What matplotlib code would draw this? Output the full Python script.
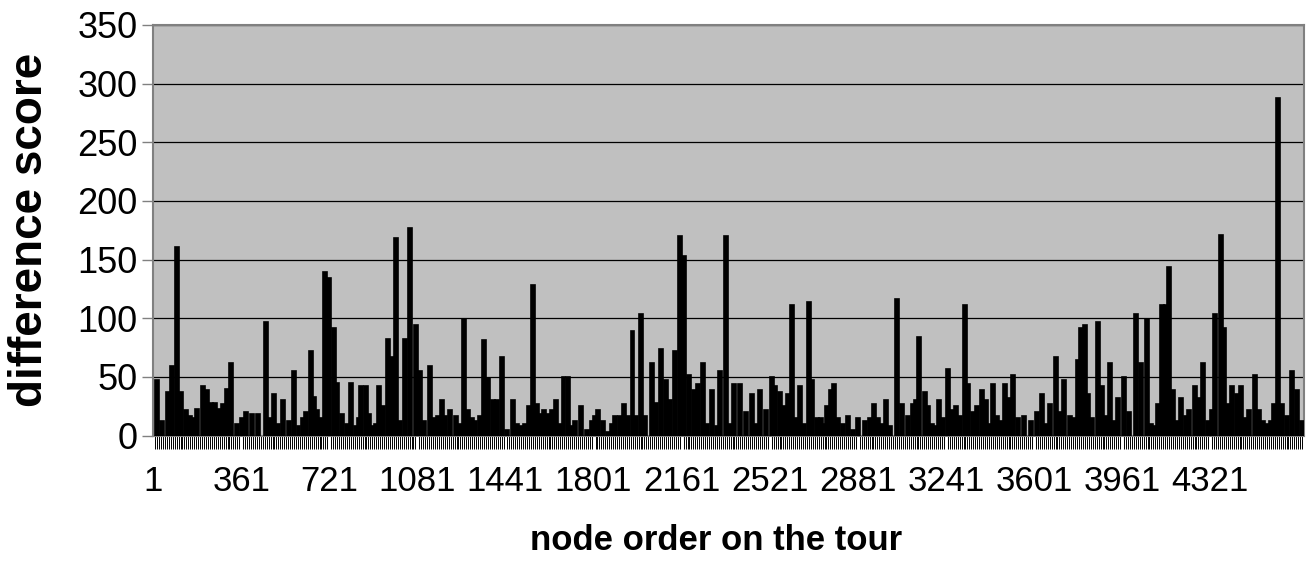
import matplotlib
matplotlib.use("Agg")
import matplotlib.pyplot as plt
import numpy as np

# ---- data ----
tour_length = 4704
tick_label_nodes = [1, 361, 721, 1081, 1441, 1801, 2161, 2521, 2881, 3241, 3601, 3961, 4321]
y_ticks = [0, 50, 100, 150, 200, 250, 300, 350]

node_order = [
    18, 37, 63, 78, 100, 115, 136, 152, 163, 182, 206, 221, 237, 254, 272, 286, 304, 320, 343, 364,
    381, 405, 431, 462, 479, 495, 513, 531, 558, 577, 595, 615, 625, 647, 659, 672, 688, 705, 719, 741,
    754, 774, 793, 809, 830, 843, 852, 870, 885, 897, 912, 925, 940, 960, 979, 994, 1011, 1031, 1052, 1076,
    1092, 1109, 1133, 1149, 1165, 1181, 1194, 1215, 1238, 1256, 1273, 1289, 1304, 1317, 1337, 1355, 1371, 1389, 1408, 1426,
    1447, 1471, 1488, 1505, 1521, 1539, 1553, 1569,
    1583, 1599, 1616, 1631, 1647, 1664, 1678, 1696, 1712, 1726, 1750, 1774, 1794, 1807, 1821, 1841, 1861, 1876, 1889, 1909,
    1926, 1943, 1960, 1975, 1994, 2012, 2039, 2057, 2076, 2097, 2114, 2134, 2156, 2170, 2191, 2212, 2227, 2250, 2266, 2284,
    2305, 2318, 2343, 2359, 2376, 2400, 2423, 2448, 2464, 2482, 2505, 2530, 2543, 2563, 2580, 2597, 2611, 2629, 2645, 2661,
    2681, 2695, 2714, 2730, 2743, 2756, 2772, 2785, 2801, 2822, 2842, 2861, 2883, 2911, 2931, 2947, 2963, 2979, 2995, 3013,
    3040,
    3061, 3087, 3108, 3119, 3132, 3156, 3169, 3186, 3197, 3214, 3230, 3249, 3267, 3283, 3299, 3319, 3333, 3351, 3367, 3388,
    3405, 3422, 3435, 3451, 3466, 3483, 3500, 3517, 3537, 3561, 3588, 3615, 3633, 3650, 3667, 3690, 3708, 3725, 3748, 3765,
    3780, 3792, 3810, 3823, 3839, 3864, 3880, 3895, 3912, 3929, 3946, 3969, 3991, 4017, 4038, 4062, 4078, 4096, 4109, 4123,
    4140, 4154, 4170, 4187, 4202, 4221, 4236, 4259, 4277, 4293, 4313, 4330, 4341, 4365, 4379, 4395, 4412, 4430, 4446, 4464,
    4480, 4504, 4521, 4536, 4552, 4570, 4582, 4597, 4614, 4634, 4655, 4675, 4695,
]
difference_score = [
    47, 12, 37, 59, 161, 37, 22, 17, 15, 23, 42, 39, 28, 28, 23, 27, 40, 62, 10, 15,
    20, 18, 18, 97, 15, 35, 10, 30, 12, 55, 8, 15, 20, 72, 33, 22, 15, 139, 134, 92,
    45, 18, 10, 45, 8, 15, 42, 42, 18, 8, 10, 42, 25, 82, 67, 168, 12, 82, 177, 94,
    55, 12, 59, 15, 17, 30, 17, 22, 17, 10, 99, 22, 15, 12, 17, 81, 49, 30, 30, 67,
    5, 30, 10, 8, 10, 25, 128, 27,
    18, 22, 18, 22, 30, 10, 50, 50, 8, 12, 25, 5, 12, 17, 22, 12, 3, 10, 17, 17,
    27, 17, 89, 17, 104, 17, 62, 28, 74, 47, 30, 72, 170, 153, 52, 39, 44, 62, 10, 39,
    8, 55, 170, 10, 44, 44, 20, 35, 10, 39, 22, 50, 42, 37, 25, 35, 111, 15, 42, 10,
    114, 47, 15, 15, 10, 25, 39, 44, 15, 10, 17, 5, 15, 12, 15, 27, 15, 10, 30, 8,
    116,
    27, 17, 27, 30, 84, 37, 25, 10, 8, 30, 15, 57, 22, 25, 17, 111, 44, 20, 25, 39,
    30, 10, 44, 17, 12, 44, 32, 52, 15, 17, 12, 20, 35, 10, 27, 67, 20, 47, 17, 15,
    64, 92, 94, 35, 15, 97, 42, 17, 62, 12, 32, 50, 20, 104, 62, 99, 10, 8, 27, 111,
    111, 144, 39, 12, 32, 17, 22, 42, 32, 62, 12, 22, 104, 171, 92, 27, 42, 35, 42, 15,
    22, 52, 22, 12, 10, 12, 27, 288, 27, 17, 55, 39, 12,
]

# ---- figure ----
W, H, DPI = 1313, 569, 100
fig = plt.figure(figsize=(W / DPI, H / DPI), dpi=DPI, facecolor="white")
left, right, top, bottom = 153, 1304, 25, 435.5
ax = fig.add_axes([left / W, (H - bottom) / H, (right - left) / W, (bottom - top) / H])
ax.set_facecolor("#C0C0C0")

ax.bar(node_order, difference_score, width=16, color="black", edgecolor="black",
       linewidth=1.2, zorder=3)

ax.set_xlim(0.5, tour_length + 0.5)
ax.set_ylim(0, 350)

# gridlines
ax.set_yticks(y_ticks)
ax.yaxis.grid(True, color="black", linewidth=0.9)
ax.set_axisbelow(True)

for s in ax.spines.values():
    s.set_color("#808080")
    s.set_linewidth(1.5)

fam = ["Liberation Sans", "DejaVu Sans"]
ax.set_yticklabels([str(v) for v in y_ticks], fontsize=26, family=fam)
ax.tick_params(axis="y", direction="out", length=8, width=1, color="#808080", pad=3)

ax.set_xticks(tick_label_nodes)
ax.set_xticklabels([str(v) for v in tick_label_nodes], fontsize=25, family=fam)
ax.set_xticks(np.arange(1, tour_length + 1, 8), minor=True)
ax.tick_params(axis="x", which="major", length=0, pad=21)
ax.tick_params(axis="x", which="minor", direction="out", length=9, width=0.7, color="black")

fig.text(716 / W, 1 - 540 / H, "node order on the tour", fontsize=25, fontweight="bold",
         family=fam, ha="center", va="center")
fig.text(30 / W, 1 - 230 / H, "difference score", fontsize=33, fontweight="bold",
         family=fam, ha="center", va="center", rotation=90)

fig.savefig("out.png", dpi=DPI, facecolor="white")
